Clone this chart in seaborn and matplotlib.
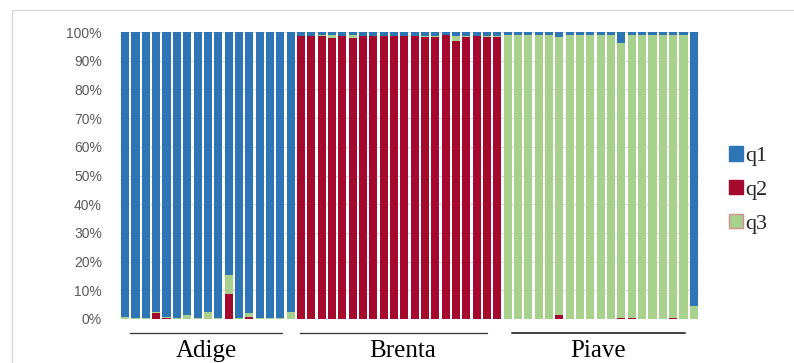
import numpy as np
import pandas as pd
import matplotlib
matplotlib.use("Agg")
import matplotlib.pyplot as plt
import seaborn as sns
from matplotlib.patches import Patch, Rectangle
from matplotlib.lines import Line2D
import matplotlib.transforms as mtransforms

# ---------------- data (percent of each bar) ----------------
groups = ["Adige", "Brenta", "Piave"]
series = ["q1", "q2", "q3"]

adige_q1 = [99.4, 99.7, 99.5, 97.4, 99.3, 99.7, 98.7, 99.8, 97.5, 99.7, 84.7, 99.7, 98.0, 99.8, 99.7, 99.7, 97.7]
adige_q2 = [0.0, 0.0, 0.0, 2.2, 0.5, 0.0, 0.0, 0.0, 0.0, 0.0, 8.7, 0.0, 0.6, 0.0, 0.0, 0.0, 0.0]
adige_q3 = [0.6, 0.3, 0.5, 0.4, 0.2, 0.3, 1.3, 0.2, 2.5, 0.3, 6.6, 0.3, 1.4, 0.2, 0.3, 0.3, 2.3]

brenta_q1 = [1.3, 1.3, 1.0, 1.2, 1.3, 1.2, 1.3, 1.3, 1.3, 1.3, 1.3, 1.3, 1.3, 1.3, 0.9, 1.3, 1.3, 1.3, 1.3, 1.3]
brenta_q2 = [98.5, 98.5, 98.5, 98.0, 98.5, 97.9, 98.5, 98.5, 98.5, 98.5, 98.5, 98.5, 98.1, 98.1, 98.9, 96.9, 98.2, 98.5, 98.1, 98.2]
brenta_q3 = [0.2, 0.2, 0.5, 0.8, 0.2, 0.9, 0.2, 0.2, 0.2, 0.2, 0.2, 0.2, 0.6, 0.6, 0.2, 1.8, 0.5, 0.2, 0.6, 0.5]

piave_q1 = [1.2, 1.2, 1.2, 1.2, 1.2, 1.6, 1.2, 1.2, 1.2, 1.2, 1.2, 3.7, 1.2, 1.2, 1.2, 1.2, 1.2, 1.2, 95.4]
piave_q2 = [0.1, 0.1, 0.1, 0.1, 0.1, 1.4, 0.1, 0.1, 0.1, 0.1, 0.1, 0.5, 0.5, 0.1, 0.1, 0.1, 0.5, 0.1, 0.0]
piave_q3 = [98.7, 98.7, 98.7, 98.7, 98.7, 97.0, 98.7, 98.7, 98.7, 98.7, 98.7, 95.8, 98.3, 98.7, 98.7, 98.7, 98.3, 98.7, 4.6]

y_ticks = [0, 10, 20, 30, 40, 50, 60, 70, 80, 90, 100]
y_tick_labels = [f"{v}%" for v in y_ticks]

# ---------------- styling ----------------
c_q1 = "#2E75B6"
c_q2 = "#A50A2E"
c_q3 = "#A9D18E"
grid_c = "#D9D9D9"

q1 = adige_q1 + brenta_q1 + piave_q1
q2 = adige_q2 + brenta_q2 + piave_q2
q3 = adige_q3 + brenta_q3 + piave_q3
grp = (["Adige"] * len(adige_q1) + ["Brenta"] * len(brenta_q1) + ["Piave"] * len(piave_q1))
df = pd.DataFrame({"idx": np.arange(len(q1)), "q1": q1, "q2": q2, "q3": q3, "group": grp})
tot = df[["q1", "q2", "q3"]].sum(axis=1)
df["p1"] = df["q1"] / tot * 100
df["p2"] = df["q2"] / tot * 100
df["p3"] = df["q3"] / tot * 100
# stacked order bottom->top: q2, q3, q1
df["top_q1"] = df["p2"] + df["p3"] + df["p1"]
df["top_q3"] = df["p2"] + df["p3"]
df["top_q2"] = df["p2"]

sns.set_style("white")
W, H = 794, 363
fig = plt.figure(figsize=(W / 100, H / 100), dpi=100)
ax = fig.add_axes([120 / W, 1 - 319 / H, (699 - 120) / W, (319 - 32) / H])

bw = 0.78
for col, c in [("top_q1", c_q1), ("top_q3", c_q3), ("top_q2", c_q2)]:
    sns.barplot(data=df, x="idx", y=col, color=c, saturation=1, width=bw,
                errorbar=None, ax=ax, linewidth=0, edgecolor="none")

n = len(df)
ax.set_xlim(-0.5, n - 0.5)
ax.set_ylim(0, 100)
ax.set_yticks(y_ticks)
ax.set_yticklabels(y_tick_labels, fontsize=10, color="#595959", family="Liberation Sans")
ax.set_xticks([])
ax.set_xlabel("")
ax.set_ylabel("")
ax.tick_params(axis="y", length=0, pad=13)
ax.yaxis.grid(True, color=grid_c, lw=0.8)
ax.set_axisbelow(True)
for s in ax.spines.values():
    s.set_visible(False)

# group annotations
trans = mtransforms.blended_transform_factory(ax.transData, ax.transAxes)
group_lines = {"Adige": (0.45, 15.2), "Brenta": (16.9, 35.0), "Piave": (37.4, 54.1)}
group_text_x = {"Adige": 7.9, "Brenta": 26.8, "Piave": 45.7}
for g in groups:
    x0, x1 = group_lines[g]
    ax.add_line(Line2D([x0, x1], [-0.049, -0.049], transform=trans, color="#404040",
                       lw=1.0 if g != "Piave" else 1.4, clip_on=False))
    ax.text(group_text_x[g], -0.112, g, transform=trans, ha="center", va="center",
            fontsize=18, family="Liberation Serif", color="black", clip_on=False)

# legend
handles = [Patch(facecolor=c_q1, edgecolor=c_q1),
           Patch(facecolor=c_q2, edgecolor=c_q2),
           Patch(facecolor=c_q3, edgecolor="#D98C8C")]
fig.legend(handles, series, loc="center left", bbox_to_anchor=(709 / W, 1 - 190 / H),
           frameon=False, handlelength=0.62, handleheight=0.62, handletextpad=0.1,
           labelspacing=0.62, prop={"family": "Liberation Serif", "size": 16})

# outer border
fig.patches.append(Rectangle((12 / W, -0.2), 1.2, 1.2 - 10 / H, transform=fig.transFigure,
                             fill=False, ec=grid_c, lw=1))

fig.savefig("out.png", dpi=100)
